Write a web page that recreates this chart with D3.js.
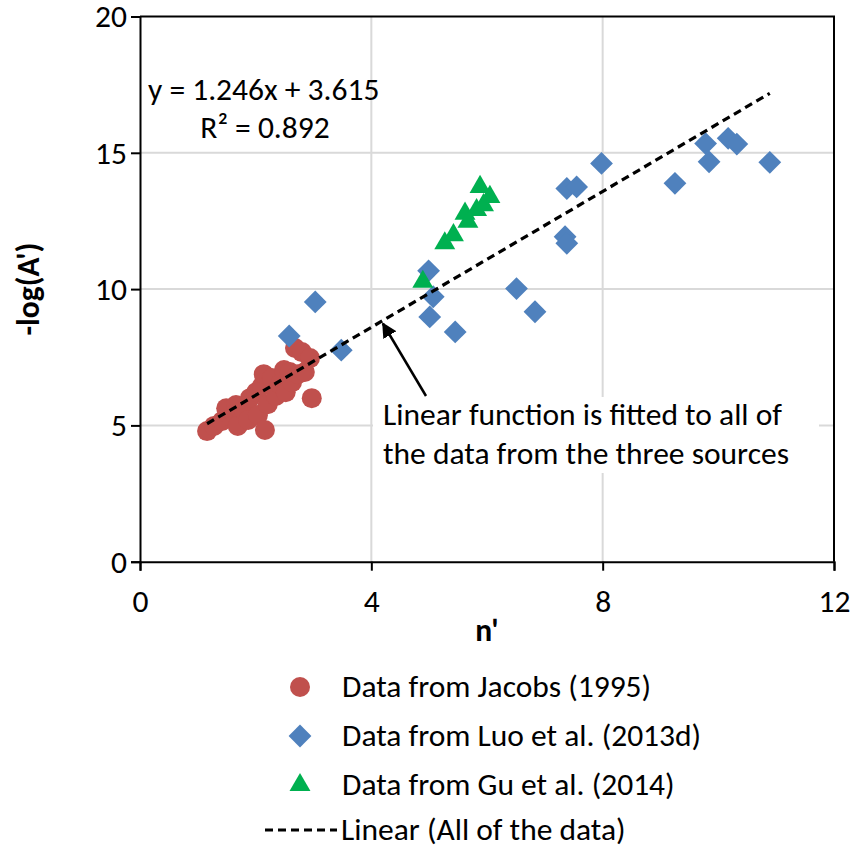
<!DOCTYPE html>
<html>
<head>
<meta charset="utf-8">
<script src="https://cdn.jsdelivr.net/npm/d3@7"></script>
<style>
  body { margin: 0; background: #fff; }
  svg text { font-family: Carlito, "Open Sans", sans-serif; fill: #000; }
</style>
</head>
<body>
<div id="chart"></div>
<script>
// values (n', -log(A'))
const jacobs = [
  [1.16, 4.79], [1.28, 4.98], [1.42, 5.16], [1.56, 5.34], [1.69, 4.98],
  [1.49, 5.63], [1.66, 5.75], [1.80, 5.56], [1.87, 5.20], [1.90, 6.00],
  [2.01, 6.22], [2.04, 5.38], [2.11, 6.45], [2.16, 4.83], [2.21, 5.78],
  [2.14, 6.88], [2.28, 6.74], [2.35, 6.08], [2.42, 6.52], [2.49, 7.03],
  [2.52, 6.22], [2.59, 6.96], [2.63, 6.59], [2.73, 6.88], [2.85, 6.96],
  [2.97, 6.00], [2.68, 7.84], [2.80, 7.69], [2.94, 7.47]
];
const luo = [
  [2.58, 8.28], [3.03, 9.53], [3.48, 7.76], [4.99, 10.67], [5.07, 9.72],
  [5.01, 8.98], [5.45, 8.43], [6.51, 10.02], [6.83, 9.17], [7.35, 11.92],
  [7.38, 11.68], [7.38, 13.69], [7.55, 13.75], [7.98, 14.61], [9.25, 13.88],
  [9.78, 15.34], [9.84, 14.67], [10.17, 15.53], [10.32, 15.32], [10.89, 14.65]
];
const gu = [
  [4.89, 10.27], [5.27, 11.68], [5.42, 11.98], [5.62, 12.77], [5.67, 12.47],
  [5.82, 12.90], [5.88, 13.75], [5.94, 13.08], [6.05, 13.38]
];
const xTicks = [0, 4, 8, 12];
const yTicks = [0, 5, 10, 15, 20];
const slope = 1.246, intercept = 3.615;
const legendLabels = [
  "Data from Jacobs (1995)",
  "Data from Luo et al. (2013d)",
  "Data from Gu et al. (2014)",
  "Linear (All of the data)"
];

const width = 850, height = 852;
const pLeft = 140, pRight = 834, pTop = 16.5, pBottom = 561.7;
const fs = 31.5;

const svg = d3.select("#chart").append("svg")
  .attr("width", width).attr("height", height);

const x = d3.scaleLinear().domain([0, 12]).range([pLeft, pRight]);
const y = d3.scaleLinear().domain([0, 20]).range([pBottom, pTop]);

// grid
svg.append("g").selectAll("line").data(xTicks.slice(1, -1)).join("line")
  .attr("x1", d => x(d)).attr("x2", d => x(d))
  .attr("y1", pTop).attr("y2", pBottom)
  .attr("stroke", "#d9d9d9").attr("stroke-width", 2);
svg.append("g").selectAll("line").data(yTicks.slice(1, -1)).join("line")
  .attr("x1", pLeft).attr("x2", pRight)
  .attr("y1", d => y(d)).attr("y2", d => y(d))
  .attr("stroke", "#d9d9d9").attr("stroke-width", 2);

// annotation box hides the grid behind it
svg.append("rect").attr("x", 373).attr("y", 397).attr("width", 446).attr("height", 76)
  .attr("fill", "#fff");

// axes
const xAxis = svg.append("g").attr("transform", `translate(0,${pBottom})`)
  .call(d3.axisBottom(x).tickValues(xTicks).tickSize(9).tickPadding(21));
const yAxis = svg.append("g").attr("transform", `translate(${pLeft},0)`)
  .call(d3.axisLeft(y).tickValues(yTicks).tickSize(9).tickPadding(4));
[xAxis, yAxis].forEach(g => {
  g.select(".domain").attr("stroke", "#000").attr("stroke-width", 2);
  g.selectAll(".tick line").attr("stroke", "#000").attr("stroke-width", 2);
  g.selectAll(".tick text").style("font-size", fs + "px")
    .style("font-family", 'Carlito, "Open Sans", sans-serif').attr("fill", "#000");
});
xAxis.selectAll(".tick text").attr("dy", 0).attr("y", 9 + 21 + 20);
yAxis.selectAll(".tick text").attr("dy", "0.33em");
// plot border top/right
svg.append("path")
  .attr("d", `M${pLeft},${pTop}H${pRight}V${pBottom}`)
  .attr("fill", "none").attr("stroke", "#000").attr("stroke-width", 2);

// axis titles
svg.append("text").attr("x", (pLeft + pRight) / 2).attr("y", 641)
  .attr("text-anchor", "middle").style("font-size", fs + "px").style("font-weight", "bold")
  .text("n'");
svg.append("text").attr("transform", `translate(39,${(pTop + pBottom) / 2}) rotate(-90)`)
  .attr("text-anchor", "middle").style("font-size", fs + "px").style("font-weight", "bold")
  .text("-log(A')");

// series
svg.append("g").selectAll("circle").data(jacobs).join("circle")
  .attr("cx", d => x(d[0])).attr("cy", d => y(d[1])).attr("r", 10)
  .attr("fill", "#c0504d");
const diamond = d3.symbol().type(d3.symbolSquare).size(260)();
svg.append("g").selectAll("path").data(luo).join("path")
  .attr("d", diamond)
  .attr("transform", d => `translate(${x(d[0])},${y(d[1])}) rotate(45)`)
  .attr("fill", "#4f81bd");
const tri = d3.symbol().type(d3.symbolTriangle).size(190)();
svg.append("g").selectAll("path").data(gu).join("path")
  .attr("d", tri)
  .attr("transform", d => `translate(${x(d[0])},${y(d[1])})`)
  .attr("fill", "#00b050");

// trendline over the full x range of the data
const all = jacobs.concat(luo, gu);
const [xmin, xmax] = d3.extent(all, d => d[0]);
svg.append("line")
  .attr("x1", x(xmin)).attr("y1", y(slope * xmin + intercept))
  .attr("x2", x(xmax)).attr("y2", y(slope * xmax + intercept))
  .attr("stroke", "#000").attr("stroke-width", 3.2).attr("stroke-dasharray", "8,5");

// equation
svg.append("text").attr("x", 148).attr("y", 100).style("font-size", fs + "px")
  .text(`y = ${slope}x + ${intercept}`);
svg.append("text").attr("x", 265).attr("y", 138).attr("text-anchor", "middle")
  .style("font-size", fs + "px").text("R² = 0.892");

// arrow annotation
svg.append("defs").append("marker").attr("id", "ah")
  .attr("viewBox", "0 0 10 10").attr("refX", 9).attr("refY", 5)
  .attr("markerWidth", 6).attr("markerHeight", 6).attr("orient", "auto")
  .append("path").attr("d", "M0,0L10,5L0,10z").attr("fill", "#000");
const ax = 4.2;
svg.append("line")
  .attr("x1", 426).attr("y1", 396)
  .attr("x2", x(ax)).attr("y2", y(slope * ax + intercept) + 3)
  .attr("stroke", "#000").attr("stroke-width", 2.5).attr("marker-end", "url(#ah)");
svg.append("text").attr("x", 383).attr("y", 425).style("font-size", fs + "px")
  .text("Linear function is fitted to all of");
svg.append("text").attr("x", 383).attr("y", 464).style("font-size", fs + "px")
  .text("the data from the three sources");

// legend
const lg = svg.append("g");
const ly = [687, 736, 785, 830];
lg.append("circle").attr("cx", 300).attr("cy", ly[0]).attr("r", 10).attr("fill", "#c0504d");
lg.append("path").attr("d", diamond)
  .attr("transform", `translate(300,${ly[1]}) rotate(45)`).attr("fill", "#4f81bd");
lg.append("path").attr("d", tri)
  .attr("transform", `translate(300,${ly[2]})`).attr("fill", "#00b050");
lg.append("line").attr("x1", 265).attr("x2", 337).attr("y1", ly[3]).attr("y2", ly[3])
  .attr("stroke", "#000").attr("stroke-width", 3.2).attr("stroke-dasharray", "8,5");
lg.selectAll("text").data(legendLabels).join("text")
  .attr("x", (d, i) => i === 3 ? 341 : 342).attr("y", (d, i) => ly[i] + 10)
  .style("font-size", fs + "px").text(d => d);
</script>
</body>
</html>
